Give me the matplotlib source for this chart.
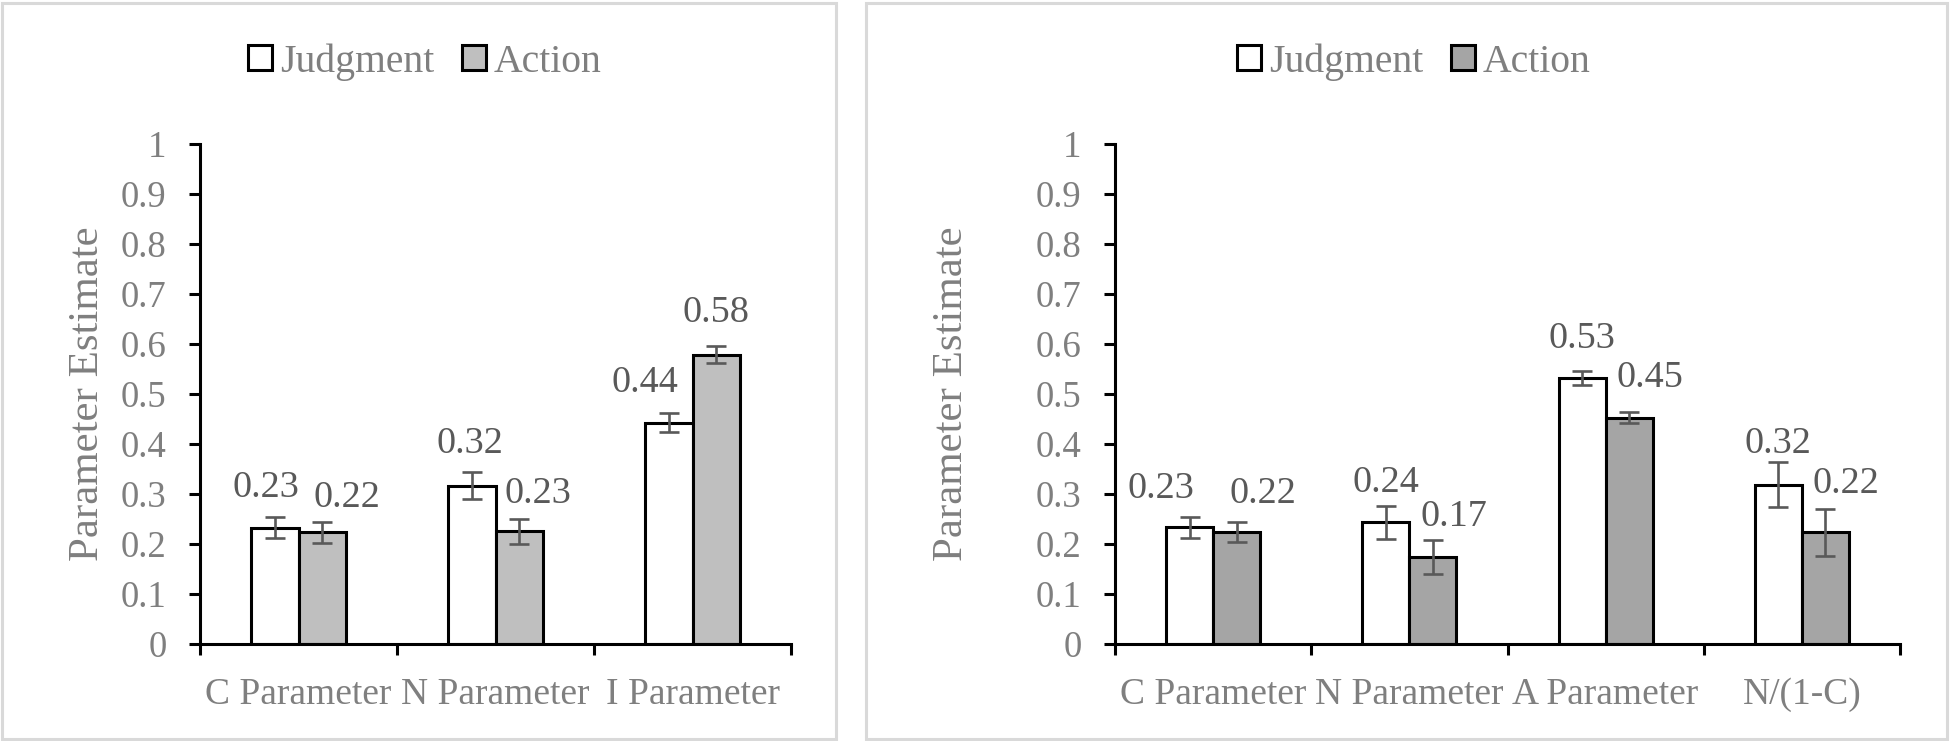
import numpy as np
import matplotlib.pyplot as plt
from matplotlib.patches import Patch, Rectangle

plt.rcParams['font.family'] = ['Liberation Serif', 'DejaVu Serif']

# left panel data
left_cats = ['C Parameter', 'N Parameter', 'I Parameter']
left_judgment = [0.233, 0.317, 0.443]
left_judgment_err = [0.021, 0.027, 0.019]
left_action = [0.224, 0.226, 0.579]
left_action_err = [0.021, 0.025, 0.017]

# right panel data
right_cats = ['C Parameter', 'N Parameter', 'A Parameter', 'N/(1-C)']
right_judgment = [0.234, 0.244, 0.533, 0.319]
right_judgment_err = [0.021, 0.033, 0.014, 0.045]
right_action = [0.224, 0.174, 0.453, 0.224]
right_action_err = [0.020, 0.034, 0.011, 0.047]

# hand-placed data label nudges (dx in category units, dy above error bar)
left_nudge_j = [(-0.046, 0.058), (-0.01, 0.056), (-0.122, 0.060)]
left_nudge_a = [(0.127, 0.048), (0.096, 0.050), (0.0, 0.066)]
right_nudge_j = [(-0.148, 0.056), (0.0, 0.045), (0.0, 0.064), (0.0, 0.036)]
right_nudge_a = [(0.132, 0.057), (0.107, 0.046), (0.107, 0.069), (0.102, 0.049)]

W, H = 1950, 741
fig = plt.figure(figsize=(W / 100, H / 100), dpi=100)

grey_txt = '#7f7f7f'
lab_txt = '#595959'
bw = 0.24


def panel(rect, cats, jv, je, av, ae, nj, na, action_col, ylab_x, box, legend_x):
    ax = fig.add_axes(rect)
    x = np.arange(len(cats))
    ax.bar(x - bw / 2, jv, bw, color='white', edgecolor='black', linewidth=2.2, zorder=2)
    ax.bar(x + bw / 2, av, bw, color=action_col, edgecolor='black', linewidth=2.2, zorder=2)
    ax.errorbar(x - bw / 2, jv, yerr=je, fmt='none', ecolor='#595959',
                elinewidth=1.9, capsize=7, capthick=1.9, zorder=3)
    ax.errorbar(x + bw / 2, av, yerr=ae, fmt='none', ecolor='#595959',
                elinewidth=1.9, capsize=7, capthick=1.9, zorder=3)
    for i in range(len(cats)):
        ax.text(x[i] - bw / 2 + nj[i][0], jv[i] + je[i] + nj[i][1], '%.2f' % jv[i],
                ha='center', va='center', fontsize=27.5, color=lab_txt)
        ax.text(x[i] + bw / 2 + na[i][0], av[i] + ae[i] + na[i][1], '%.2f' % av[i],
                ha='center', va='center', fontsize=27.5, color=lab_txt)

    ax.set_xlim(-0.5, len(cats) - 0.5)
    ax.set_ylim(0, 1)
    ax.set_yticks(np.arange(0, 1.01, 0.1))
    ax.set_yticklabels(['%g' % round(v, 1) for v in np.arange(0, 1.01, 0.1)])
    ax.set_xticks(np.arange(len(cats) + 1) - 0.5)
    ax.set_xticklabels([])
    ax.set_xticks(x, minor=True)
    ax.set_xticklabels(cats, minor=True)
    ax.tick_params(axis='x', which='minor', length=0, pad=24, labelsize=27, labelcolor=grey_txt)
    ax.tick_params(axis='x', which='major', length=8, width=2.2, direction='out')
    ax.tick_params(axis='y', length=8, width=2.2, direction='out', pad=16,
                   labelsize=26.5, labelcolor=grey_txt)
    for s in ['top', 'right']:
        ax.spines[s].set_visible(False)
    for s in ['left', 'bottom']:
        ax.spines[s].set_linewidth(2.2)
    ax.set_ylabel('Parameter Estimate', fontsize=31, color=grey_txt)
    ax.yaxis.set_label_coords(ylab_x, 0.5)

    # panel border
    fig.patches.append(Rectangle((box[0] / W, 2 / H), (box[1] - box[0]) / W, (H - 5) / H,
                                 transform=fig.transFigure, fill=False,
                                 edgecolor='#d9d9d9', linewidth=2.2))

    handles = [Patch(facecolor='white', edgecolor='black', linewidth=2.2, label='Judgment'),
               Patch(facecolor=action_col, edgecolor='black', linewidth=2.2, label='Action')]
    ax.legend(handles=handles, loc='center', bbox_to_anchor=(legend_x / W, 1 - 62 / H),
              bbox_transform=fig.transFigure, ncol=2, frameon=False, fontsize=28.5,
              labelcolor=grey_txt, handlelength=0.6, handleheight=0.6,
              handletextpad=0.2, columnspacing=0.7)
    return ax


panel([200 / W, 97 / H, 591 / W, 500 / H], left_cats, left_judgment, left_judgment_err,
      left_action, left_action_err, left_nudge_j, left_nudge_a, '#bfbfbf', -0.158,
      (2, 836), 425)
panel([1115 / W, 97 / H, 785 / W, 500 / H], right_cats, right_judgment, right_judgment_err,
      right_action, right_action_err, right_nudge_j, right_nudge_a, '#a5a5a5', -0.184,
      (866, 1947), 1414)

fig.savefig('out.png', dpi=100)
